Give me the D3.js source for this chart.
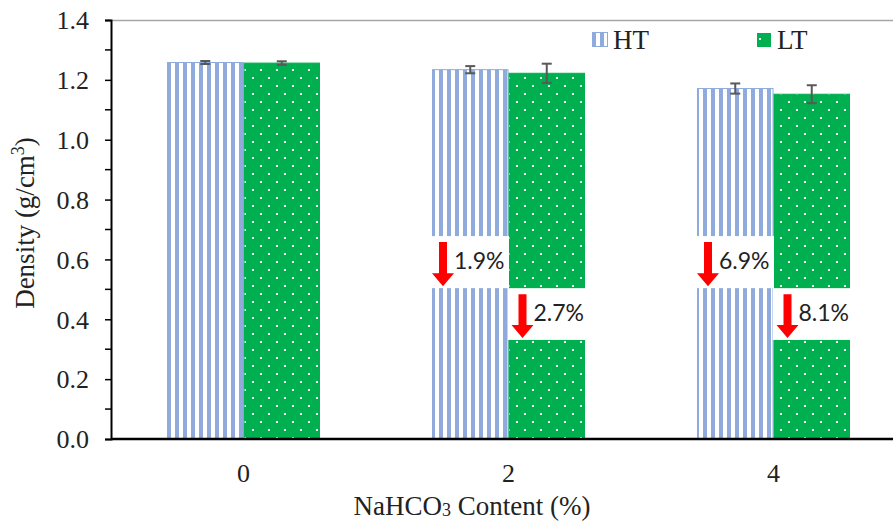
<!DOCTYPE html>
<html><head><meta charset="utf-8">
<script src="https://cdn.jsdelivr.net/npm/d3@7"></script>
<style>body{margin:0;background:#fff;} svg{display:block;}</style>
</head><body>
<svg id="chart" width="893" height="524"></svg>
<script>
// ---- data ----
const categories = ["0", "2", "4"];
const seriesNames = ["HT", "LT"];
const htValues = [1.258, 1.234, 1.171];
const ltValues = [1.256, 1.222, 1.152];
const htErrors = [0.005, 0.012, 0.017];
const ltErrors = [0.006, 0.032, 0.030];
const yTicks = [0, 0.2, 0.4, 0.6, 0.8, 1.0, 1.2, 1.4];
// reduction annotations (category, series, label, break range in density units)
const annotCategories = ["2", "2", "4", "4"];
const annotSeries = ["HT", "LT", "HT", "LT"];
const annotLabels = ["1.9%", "2.7%", "6.9%", "8.1%"];
const breakTop = [0.678, 0.504, 0.678, 0.504];
const breakBottom = [0.504, 0.331, 0.504, 0.331];

(function(){
const svg = d3.select("#chart");
const pLeft = 111, pRight = 906, pTop = 20, pBottom = 439;
const SERIF = "'Liberation Serif', 'Times New Roman', serif";
const SANS = "Lato, 'Open Sans', sans-serif";

const x = d3.scaleBand().domain(categories).range([pLeft, pRight])
  .paddingInner(0.4226).paddingOuter(0.2113);
const xs = d3.scaleBand().domain(seriesNames).range([0, x.bandwidth()]);
const y = d3.scaleLinear().domain([0, 1.4]).range([pBottom, pTop]);

const defs = svg.append("defs");
const pHT = defs.append("pattern").attr("id", "pHT").attr("patternUnits", "userSpaceOnUse")
  .attr("width", 8).attr("height", 8).attr("x", x(categories[0]));
pHT.append("rect").attr("width", 8).attr("height", 8).attr("fill", "#fff");
pHT.append("rect").attr("width", 4).attr("height", 8).attr("fill", "#8faadc");
const pLT = defs.append("pattern").attr("id", "pLT").attr("patternUnits", "userSpaceOnUse")
  .attr("width", 16).attr("height", 16);
pLT.append("rect").attr("width", 16).attr("height", 16).attr("fill", "#00b050");
pLT.append("rect").attr("x", 4).attr("y", 5).attr("width", 2).attr("height", 2).attr("fill", "#e8f8ee");
pLT.append("rect").attr("x", 12).attr("y", 13).attr("width", 2).attr("height", 2).attr("fill", "#e8f8ee");
const pHTl = defs.append("pattern").attr("id", "pHTl").attr("patternUnits", "userSpaceOnUse")
  .attr("width", 8).attr("height", 8).attr("x", 592);
pHTl.append("rect").attr("width", 8).attr("height", 8).attr("fill", "#fff");
pHTl.append("rect").attr("width", 4).attr("height", 8).attr("fill", "#8faadc");

const fills = {HT: "url(#pHT)", LT: "url(#pLT)"};
const strokes = {HT: "#8faadc", LT: "#00b050"};

// top border
svg.append("line").attr("x1", pLeft).attr("x2", 893).attr("y1", pTop + 0.5).attr("y2", pTop + 0.5)
  .attr("stroke", "#a6a6a6").attr("stroke-width", 1.5);

const rows = [];
categories.forEach((c, i) => {
  rows.push({cat: c, s: "HT", v: htValues[i], e: htErrors[i]});
  rows.push({cat: c, s: "LT", v: ltValues[i], e: ltErrors[i]});
});

svg.append("g").selectAll("rect").data(rows).join("rect")
  .attr("x", d => x(d.cat) + xs(d.s) + 0.5)
  .attr("y", d => y(d.v))
  .attr("width", xs.bandwidth() - 1)
  .attr("height", d => y(0) - y(d.v))
  .attr("fill", d => fills[d.s])
  .attr("stroke", d => strokes[d.s]).attr("stroke-width", 1);

// error bars
const eb = svg.append("g").attr("stroke", "#595959").attr("stroke-width", 2);
rows.forEach(d => {
  const cx = x(d.cat) + xs(d.s) + xs.bandwidth()/2;
  eb.append("line").attr("x1", cx).attr("x2", cx).attr("y1", y(d.v + d.e)).attr("y2", y(d.v - d.e));
  eb.append("line").attr("x1", cx-5).attr("x2", cx+5).attr("y1", y(d.v + d.e)).attr("y2", y(d.v + d.e));
  eb.append("line").attr("x1", cx-5).attr("x2", cx+5).attr("y1", y(d.v - d.e)).attr("y2", y(d.v - d.e));
});

// breaks + arrows + labels
const ag = svg.append("g");
annotLabels.forEach((lab, i) => {
  const bx = x(annotCategories[i]) + xs(annotSeries[i]);
  const y0 = y(breakTop[i]), y1 = y(breakBottom[i]);
  ag.append("rect").attr("x", bx - 0.5).attr("y", y0).attr("width", xs.bandwidth() + 1).attr("height", y1 - y0)
    .attr("fill", "#fff");
  const ax = bx + (annotSeries[i] === "HT" ? 11 : 14);
  const at = y0 + 6, ab = y1 - 2;
  const sw = 4, hw = 11, hl = 13;
  ag.append("path").attr("fill", "#ff0000")
    .attr("d", `M${ax-sw},${at} L${ax+sw},${at} L${ax+sw},${ab-hl} L${ax+hw},${ab-hl} L${ax},${ab} L${ax-hw},${ab-hl} L${ax-sw},${ab-hl} Z`);
  ag.append("text").attr("x", ax + 11).attr("y", (y0 + y1)/2 + 1)
    .attr("dominant-baseline", "middle")
    .style("font-family", SANS).style("font-size", "23px")
    .attr("fill", "#222").text(lab);
});

// y axis
const yAxis = d3.axisLeft(y).tickValues(yTicks).tickFormat(d3.format(".1f")).tickSize(6).tickPadding(16);
const ya = svg.append("g").attr("transform", `translate(${pLeft},0)`).call(yAxis);
ya.select(".domain").attr("stroke", "#000").attr("stroke-width", 2);
ya.selectAll(".tick line").attr("stroke", "#000").attr("stroke-width", 1.5);
ya.selectAll(".tick text").style("font-family", SERIF).style("font-size", "26px").attr("fill", "#222")
  .attr("dy", "0.34em");
const minorTicks = d3.range(0.1, 1.4, 0.2);
ya.selectAll(".minor").data(minorTicks).join("line").attr("class", "minor")
  .attr("x1", -6).attr("x2", 0).attr("y1", d => y(d)).attr("y2", d => y(d))
  .attr("stroke", "#000").attr("stroke-width", 1.5);

// x axis
const xAxis = d3.axisBottom(x).tickSize(0).tickPadding(25);
const xa = svg.append("g").attr("transform", `translate(0,${pBottom})`).call(xAxis);
xa.select(".domain").attr("stroke", "#000").attr("stroke-width", 2.5).attr("d", `M${pLeft},0H893`);
xa.selectAll(".tick text").style("font-family", SERIF).style("font-size", "26px").attr("fill", "#222");

// axis titles
const xt = svg.append("text").attr("x", 472).attr("y", 515).attr("text-anchor", "middle")
  .style("font-family", SERIF).style("font-size", "27px").attr("fill", "#222");
xt.append("tspan").text("NaHCO");
xt.append("tspan").style("font-size", "18px").attr("dy", 1).text("3");
xt.append("tspan").attr("dy", -1).text(" Content (%)");

const yt = svg.append("text").attr("transform", "translate(34,223) rotate(-90)").attr("text-anchor", "middle")
  .style("font-family", SERIF).style("font-size", "27px").attr("fill", "#222");
yt.append("tspan").text("Density (g/cm");
yt.append("tspan").style("font-size", "18px").attr("dy", -10).text("3");
yt.append("tspan").attr("dy", 10).text(")");

// legend
const lg = svg.append("g");
lg.append("rect").attr("x", 592.5).attr("y", 32.5).attr("width", 15).attr("height", 14)
  .attr("fill", "url(#pHTl)").attr("stroke", "#8faadc");
lg.append("text").attr("x", 613).attr("y", 49).text("HT")
  .style("font-family", SERIF).style("font-size", "27px").attr("fill", "#222");
lg.append("rect").attr("x", 757).attr("y", 33).attr("width", 14).attr("height", 14).attr("fill", "#00b050");
lg.append("rect").attr("x", 759).attr("y", 38).attr("width", 2).attr("height", 2).attr("fill", "#e8f8ee");
lg.append("text").attr("x", 777).attr("y", 49).text("LT")
  .style("font-family", SERIF).style("font-size", "27px").attr("fill", "#222");
})();
</script>
</body></html>
